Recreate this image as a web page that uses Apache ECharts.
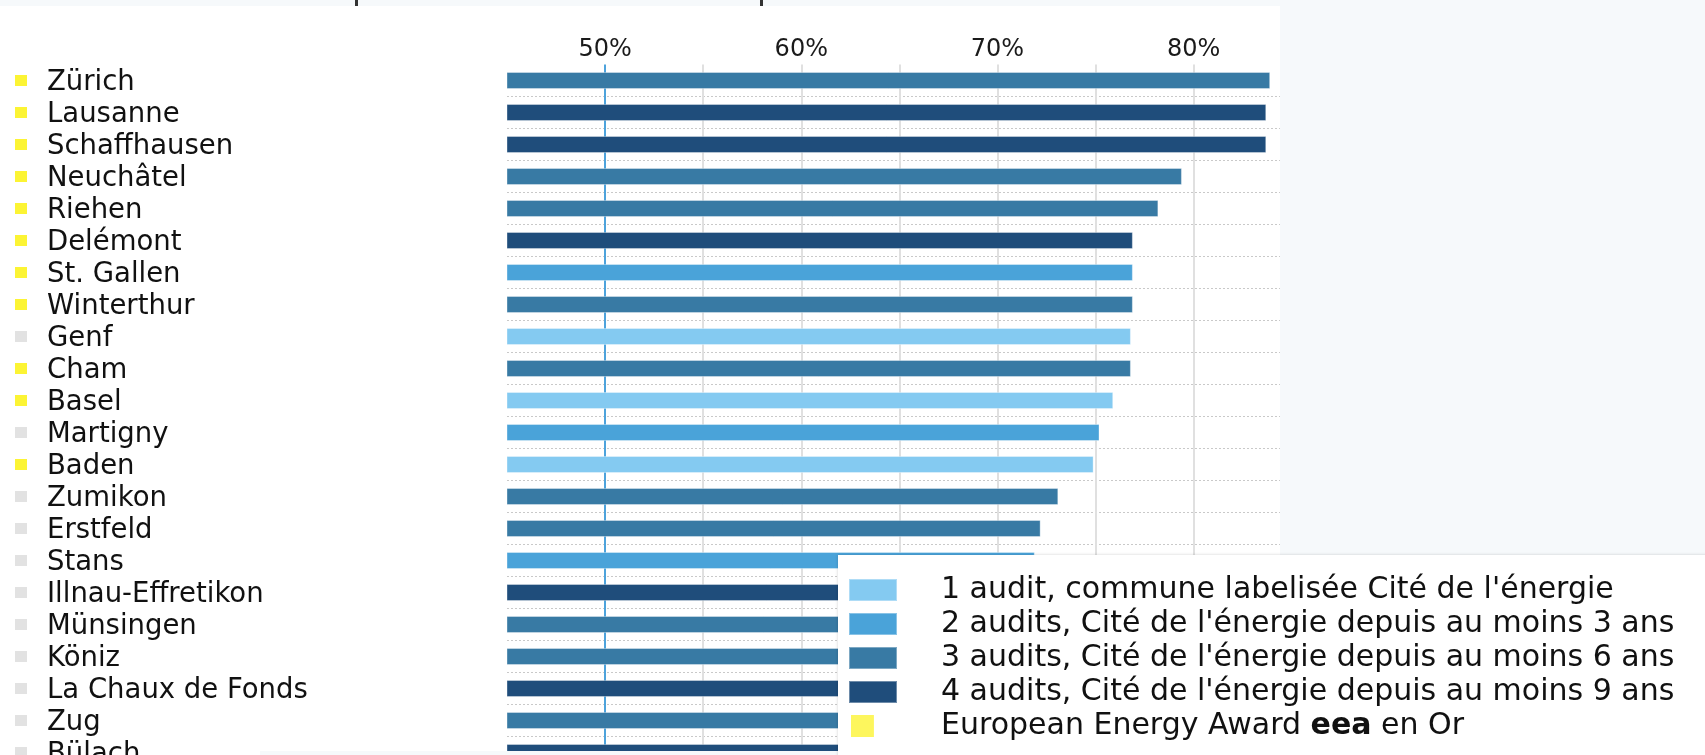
<!DOCTYPE html>
<html>
<head>
<meta charset="utf-8">
<title>Cités de l'énergie</title>
<script src="https://cdn.jsdelivr.net/npm/echarts@6.0.0/dist/echarts.min.js"></script>
<style>
	html, body { margin: 0; padding: 0; background: #f6f9fb; overflow: hidden; }
	#chart { width: 1705px; height: 755px; }
</style>
</head>
<body>
<div id="chart"></div>
<script>
	// communes, score en %, nombre d'audits, eea Gold
	var communes = ['Zürich', 'Lausanne', 'Schaffhausen', 'Neuchâtel', 'Riehen', 'Delémont', 'St. Gallen',
		'Winterthur', 'Genf', 'Cham', 'Basel', 'Martigny', 'Baden', 'Zumikon', 'Erstfeld', 'Stans',
		'Illnau-Effretikon', 'Münsingen', 'Köniz', 'La Chaux de Fonds', 'Zug', 'Bülach'];
	var scores = [83.9, 83.7, 83.7, 79.4, 78.2, 76.9, 76.9, 76.9, 76.8, 76.8, 75.9, 75.2, 74.9,
		73.1, 72.2, 71.9, 71.5, 71.2, 70.8, 70.4, 70.0, 69.6];
	var audits = [3, 4, 4, 3, 3, 4, 2, 3, 1, 3, 1, 2, 1, 3, 3, 2, 4, 3, 3, 4, 3, 4];
	var eeaGold = [1, 1, 1, 1, 1, 1, 1, 1, 0, 1, 1, 0, 1, 0, 0, 0, 0, 0, 0, 0, 0, 0];
	var xLabels = [50, 60, 70, 80];
	var auditNames = [
		"1 audit, commune labelisée Cité de l'énergie",
		"2 audits, Cité de l'énergie depuis au moins 3 ans",
		"3 audits, Cité de l'énergie depuis au moins 6 ans",
		"4 audits, Cité de l'énergie depuis au moins 9 ans"
	];
	var auditColors = ['#84caf1', '#4aa3d9', '#387aa4', '#1f4d7b'];
	var goldColor = '#fcf434';
	var font = 'DejaVu Sans';

	var chart = echarts.init(document.getElementById('chart'));

	var series = auditNames.map(function(name, k) {
		return {
			name: name,
			type: 'bar',
			barWidth: 17,
			barGap: '-100%',
			itemStyle: {
				color: auditColors[k],
				borderColor: 'rgba(255,255,255,0.35)',
				borderWidth: 1
			},
			data: scores.map(function(v, i) { return audits[i] === k + 1 ? v : null; })
		};
	});
	// entrée de légende pour l'eea Gold
	series.push({ name: 'eea', type: 'scatter', data: [], itemStyle: { color: goldColor } });

	var gray = '#e0e0e0';
	var option = {
		animation: false,
		textStyle: { fontFamily: font },
		grid: { left: 507, top: 64.5, width: 773, height: 704, containLabel: false, outerBoundsMode: 'none' },
		xAxis: {
			type: 'value',
			position: 'top',
			min: 45,
			max: 84.4,
			interval: 5,
			axisLine: { show: false },
			axisTick: { show: false },
			axisLabel: {
				fontFamily: font,
				fontSize: 24,
				color: '#1a1a1a',
				margin: 3,
				formatter: function(v) { return xLabels.indexOf(v) >= 0 ? v + '%' : ''; }
			},
			splitLine: {
				lineStyle: {
					width: 2,
					color: ['rgba(0,0,0,0)', '#4da3dc', gray, gray, gray, gray, gray, gray, 'rgba(0,0,0,0)']
				}
			}
		},
		yAxis: {
			type: 'category',
			inverse: true,
			data: communes,
			axisLine: { show: false },
			axisTick: { show: false },
			axisLabel: {
				interval: 0,
				align: 'left',
				margin: 492,
				formatter: function(value, index) {
					return (eeaGold[index] ? '{g|}' : '{s|}') + '{t|' + value + '}';
				},
				rich: {
					g: { backgroundColor: goldColor, width: 12, height: 11 },
					s: { backgroundColor: '#e2e2e2', width: 12, height: 11 },
					t: { fontFamily: font, fontSize: 27.5, color: '#111111', padding: [4, 0, 0, 20] }
				}
			},
			splitLine: {
				show: true,
				showMinLine: false,
				lineStyle: { type: [2, 2], color: '#c9c9c9', width: 1 }
			}
		},
		legend: {
			orient: 'vertical',
			left: 843,
			top: 570,
			z: 12,
			itemWidth: 48,
			itemHeight: 22,
			itemGap: 4,
			selectedMode: false,
			icon: 'rect',
			data: auditNames.concat([{ name: 'eea', icon: 'path://M0,0h25v24h-25zM48,24' }]),
			formatter: function(name) {
				return name === 'eea' ? '{t|European Energy Award }{b|eea}{t| en Or}' : name;
			},
			textStyle: {
				fontFamily: font,
				fontSize: 30,
				color: '#111111',
				padding: [0, 0, 0, 39],
				rich: {
					t: { fontFamily: font, fontSize: 30, color: '#111111' },
					b: { fontFamily: font, fontSize: 30, color: '#111111', fontWeight: 'bold' }
				}
			}
		},
		graphic: [
			{ type: 'rect', z: -10, shape: { x: 0, y: 6, width: 1280, height: 749 }, style: { fill: '#ffffff' } },
			{ type: 'rect', z: -9, shape: { x: 355, y: 0, width: 3, height: 6 }, style: { fill: '#333333' } },
			{ type: 'rect', z: -9, shape: { x: 760, y: 0, width: 3, height: 6 }, style: { fill: '#333333' } },
			{ type: 'rect', z: 10, shape: { x: 260, y: 751, width: 580, height: 4 }, style: { fill: '#f6f9fb' } },
			{
				type: 'rect', z: 10,
				shape: { x: 838, y: 555, width: 870, height: 205 },
				style: { fill: '#ffffff', shadowBlur: 3, shadowColor: 'rgba(0,0,0,0.18)' }
			}
		],
		series: series
	};
	chart.setOption(option);
</script>
</body>
</html>
